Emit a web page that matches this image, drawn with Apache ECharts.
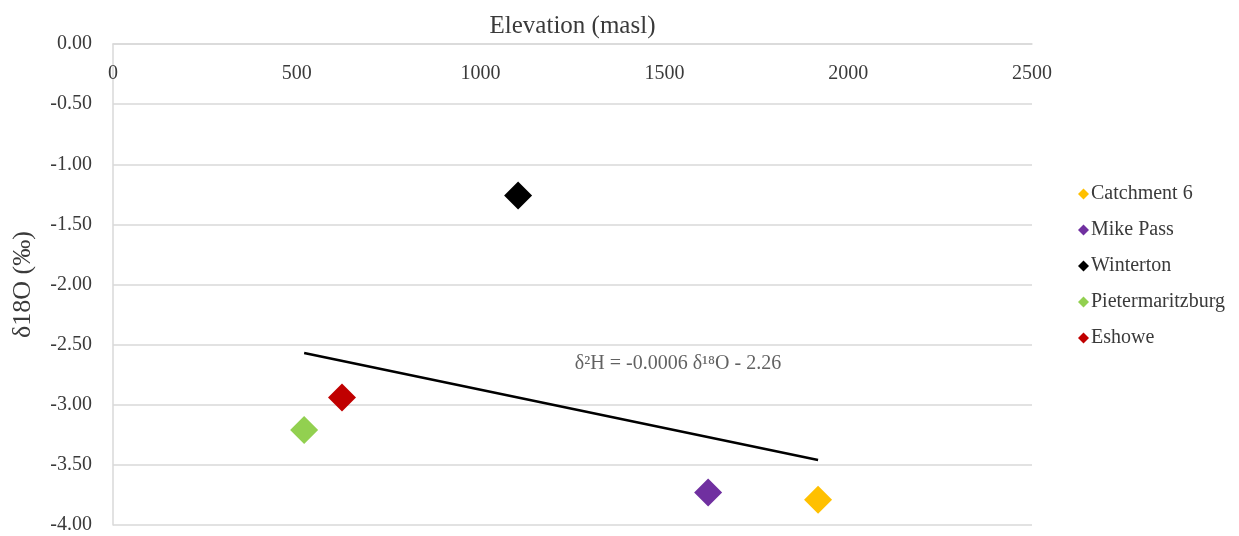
<!DOCTYPE html>
<html><head><meta charset="utf-8">
<script src="https://cdn.jsdelivr.net/npm/echarts@6/dist/echarts.min.js"></script>
<style>html,body{margin:0;padding:0;background:#fff}#c{width:1239px;height:536px}</style>
</head><body><div id="c"></div>
<script>
const seriesNames = ["Catchment 6", "Mike Pass", "Winterton", "Pietermaritzburg", "Eshowe"];
const elevations = [1918, 1619, 1102, 520, 623];
const d18O = [-3.79, -3.73, -1.26, -3.21, -2.94];
const colors = ["#FFC000", "#7030A0", "#000000", "#92D050", "#C00000"];
const trendX = [520, 1918];
const trendY = [-2.57, -3.46];
const equationText = "δ²H = -0.0006 δ¹⁸O - 2.26";
const equationPos = [1537, -2.66];
const xTicks = [0, 500, 1000, 1500, 2000, 2500];
const yTicks = [0, -0.5, -1, -1.5, -2, -2.5, -3, -3.5, -4];

const font = "Liberation Serif";
const txt = "#3a3a3a";
const chart = echarts.init(document.getElementById('c'));
const series = seriesNames.map((n, i) => ({
  name: n, type: 'scatter', symbol: 'diamond', symbolSize: 28,
  itemStyle: {color: colors[i], opacity: 1}, data: [[elevations[i], d18O[i]]], z: 5
}));
series.push({
  type: 'line', data: trendX.map((x, i) => [x, trendY[i]]), symbol: 'none',
  lineStyle: {color: '#000', width: 2.5}, silent: true, z: 3
});
series.push({
  type: 'scatter', data: [equationPos], symbolSize: 0, silent: true,
  label: {show: true, position: 'inside', formatter: equationText, fontFamily: font, fontSize: 20, color: txt}
});
chart.setOption({
  animation: false,
  textStyle: {fontFamily: font},
  grid: {left: 113, right: 207, top: 44, bottom: 11},
  legend: {
    orient: 'vertical', left: 1073, top: 179, itemGap: 16,
    itemWidth: 11, itemHeight: 11, icon: 'diamond',
    data: seriesNames,
    textStyle: {fontFamily: font, fontSize: 20, color: txt, padding: [0, 0, 0, -3]}
  },
  xAxis: {
    type: 'value', position: 'top', min: 0, max: 2500, interval: 500,
    name: 'Elevation (masl)', nameLocation: 'middle', nameGap: 5,
    nameTextStyle: {fontFamily: font, fontSize: 25, color: txt},
    axisLine: {show: true, onZero: false, lineStyle: {color: '#d9d9d9', width: 1.5}},
    axisTick: {show: false},
    axisLabel: {inside: true, margin: 20, fontFamily: font, fontSize: 20, color: txt,
      formatter: v => xTicks.includes(v) ? String(v) : ''},
    splitLine: {show: false}
  },
  yAxis: {
    type: 'value', min: -4, max: 0, interval: 0.5,
    name: 'δ18O (‰)', nameLocation: 'middle', nameGap: 77, nameRotate: 90,
    nameTextStyle: {fontFamily: font, fontSize: 26, color: txt},
    axisLine: {show: true, lineStyle: {color: '#d9d9d9', width: 1.5}},
    axisTick: {show: false},
    axisLabel: {margin: 21, fontFamily: font, fontSize: 20, color: txt,
      formatter: v => yTicks.some(t => Math.abs(t - v) < 1e-9) ? v.toFixed(2) : ''},
    splitLine: {show: true, lineStyle: {color: '#d9d9d9', width: 1.5}}
  },
  series: series
});
</script></body></html>
